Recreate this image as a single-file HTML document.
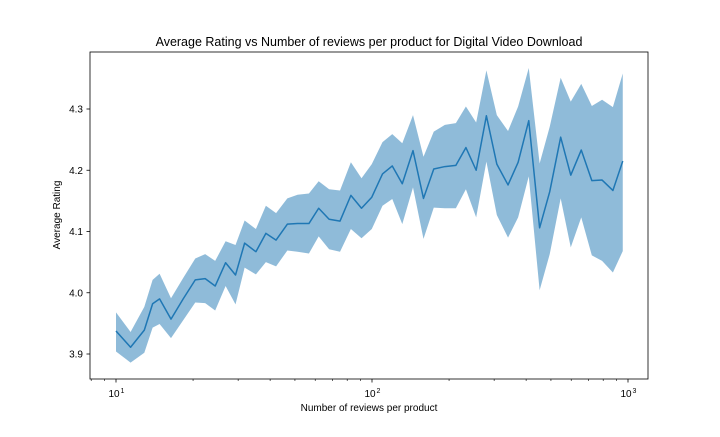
<!DOCTYPE html>
<html><head><meta charset="utf-8"><style>
body{margin:0;background:#fff;}
svg text{font-family:"Liberation Sans","DejaVu Sans",sans-serif;fill:#000;}
</style></head><body>
<svg id="chart" width="720" height="432" viewBox="0 0 720 432" xmlns="http://www.w3.org/2000/svg">
<rect width="720" height="432" fill="#fff"/>
<text x="369" y="46" font-size="12.5" text-anchor="middle">Average Rating vs Number of reviews per product for Digital Video Download</text>
<g id="plot"></g>
<rect x="90" y="52" width="558" height="327" fill="none" stroke="#000" stroke-width="0.8"/>
<text x="369" y="411" font-size="10" text-anchor="middle">Number of reviews per product</text>
<text transform="translate(60,215) rotate(-90)" font-size="10" text-anchor="middle">Average Rating</text>
</svg>
<script>
const reviews=[10,11.4,12.9,13.9,14.8,16.4,18.3,20.4,22.3,24.4,26.8,29.3,31.8,35.2,38.5,42.2,46.7,51.2,56.7,61.9,68.0,75.0,82.7,91.0,99.8,109.9,120.0,131.3,144.6,158.9,174.3,192.6,212.6,232.7,255.2,279.8,307.3,339.9,372.2,409.6,451.6,494.6,545.8,597.6,656.7,722.3,792.1,872.9,954];
const meanRating=[3.9375,3.911,3.939,3.982,3.990,3.957,3.99,4.021,4.023,4.011,4.049,4.029,4.081,4.067,4.097,4.086,4.112,4.113,4.113,4.138,4.120,4.117,4.159,4.138,4.156,4.194,4.207,4.178,4.232,4.154,4.202,4.206,4.208,4.237,4.200,4.289,4.210,4.176,4.213,4.281,4.106,4.165,4.254,4.192,4.233,4.183,4.184,4.167,4.215];
const upperRating=[3.968,3.936,3.977,4.021,4.031,3.991,4.024,4.056,4.063,4.052,4.084,4.078,4.118,4.104,4.142,4.130,4.154,4.160,4.162,4.182,4.169,4.167,4.213,4.187,4.210,4.246,4.259,4.244,4.290,4.222,4.263,4.274,4.277,4.304,4.278,4.363,4.290,4.264,4.304,4.367,4.211,4.271,4.351,4.312,4.341,4.305,4.315,4.303,4.358];
const lowerRating=[3.904,3.886,3.902,3.943,3.949,3.926,3.955,3.984,3.983,3.971,4.011,3.981,4.041,4.030,4.050,4.043,4.069,4.067,4.064,4.092,4.071,4.067,4.104,4.089,4.104,4.142,4.153,4.112,4.172,4.088,4.139,4.138,4.138,4.169,4.123,4.214,4.127,4.090,4.123,4.19,4.004,4.063,4.154,4.074,4.123,4.061,4.052,4.033,4.068];
const yTicks=[3.9,4.0,4.1,4.2,4.3];
const xMajor=[10,100,1000];
const xMajorLabels=["1","2","3"];

const X=v=>116+256*(Math.log10(v)-1);
const Y=v=>292.75-612.5*(v-4.0);
const NS="http://www.w3.org/2000/svg";
const g=document.getElementById('plot');
function mk(t,a){const e=document.createElementNS(NS,t);for(const k in a)e.setAttribute(k,a[k]);g.appendChild(e);return e;}

let d="";
reviews.forEach((r,i)=>{d+=(i?"L":"M")+X(r).toFixed(2)+","+Y(upperRating[i]).toFixed(2);});
for(let i=reviews.length-1;i>=0;i--)d+="L"+X(reviews[i]).toFixed(2)+","+Y(lowerRating[i]).toFixed(2);
const band=mk('path',{d:d+"Z",fill:"#1f77b4","fill-opacity":"0.5",stroke:"none"});


let l="";
reviews.forEach((r,i)=>{l+=(i?"L":"M")+X(r).toFixed(2)+","+Y(meanRating[i]).toFixed(2);});
const line=mk('path',{d:l,fill:"none",stroke:"#1f77b4","stroke-width":"1.5","stroke-linejoin":"round"});



yTicks.forEach(v=>{
  const y=Y(v);
  const t=mk('line',{x1:86.5,x2:90,y1:y,y2:y,stroke:"#000","stroke-width":"0.8"});
  
  
  const tx=mk('text',{x:83,y:y+3.5,"font-size":"10","text-anchor":"end"});
  tx.textContent=v.toFixed(1);
  
  
});
xMajor.forEach((v,i)=>{
  const x=X(v);
  const t=mk('line',{x1:x,x2:x,y1:379,y2:382.5,stroke:"#000","stroke-width":"0.8"});
  
  
  const tx=mk('text',{x:x-2,y:397,"font-size":"10","text-anchor":"middle"});
  tx.textContent="10";
  
  
  const sp=mk('text',{x:x+4.5,y:393,"font-size":"7","text-anchor":"start"});
  sp.textContent=xMajorLabels[i];
  
  
});
[8,9,20,30,40,50,60,70,80,90,200,300,400,500,600,700,800,900].forEach(v=>{
  const x=X(v);
  const t=mk('line',{x1:x,x2:x,y1:379,y2:381,stroke:"#000","stroke-width":"0.6"});
  
  
});
</script>
</body></html>
